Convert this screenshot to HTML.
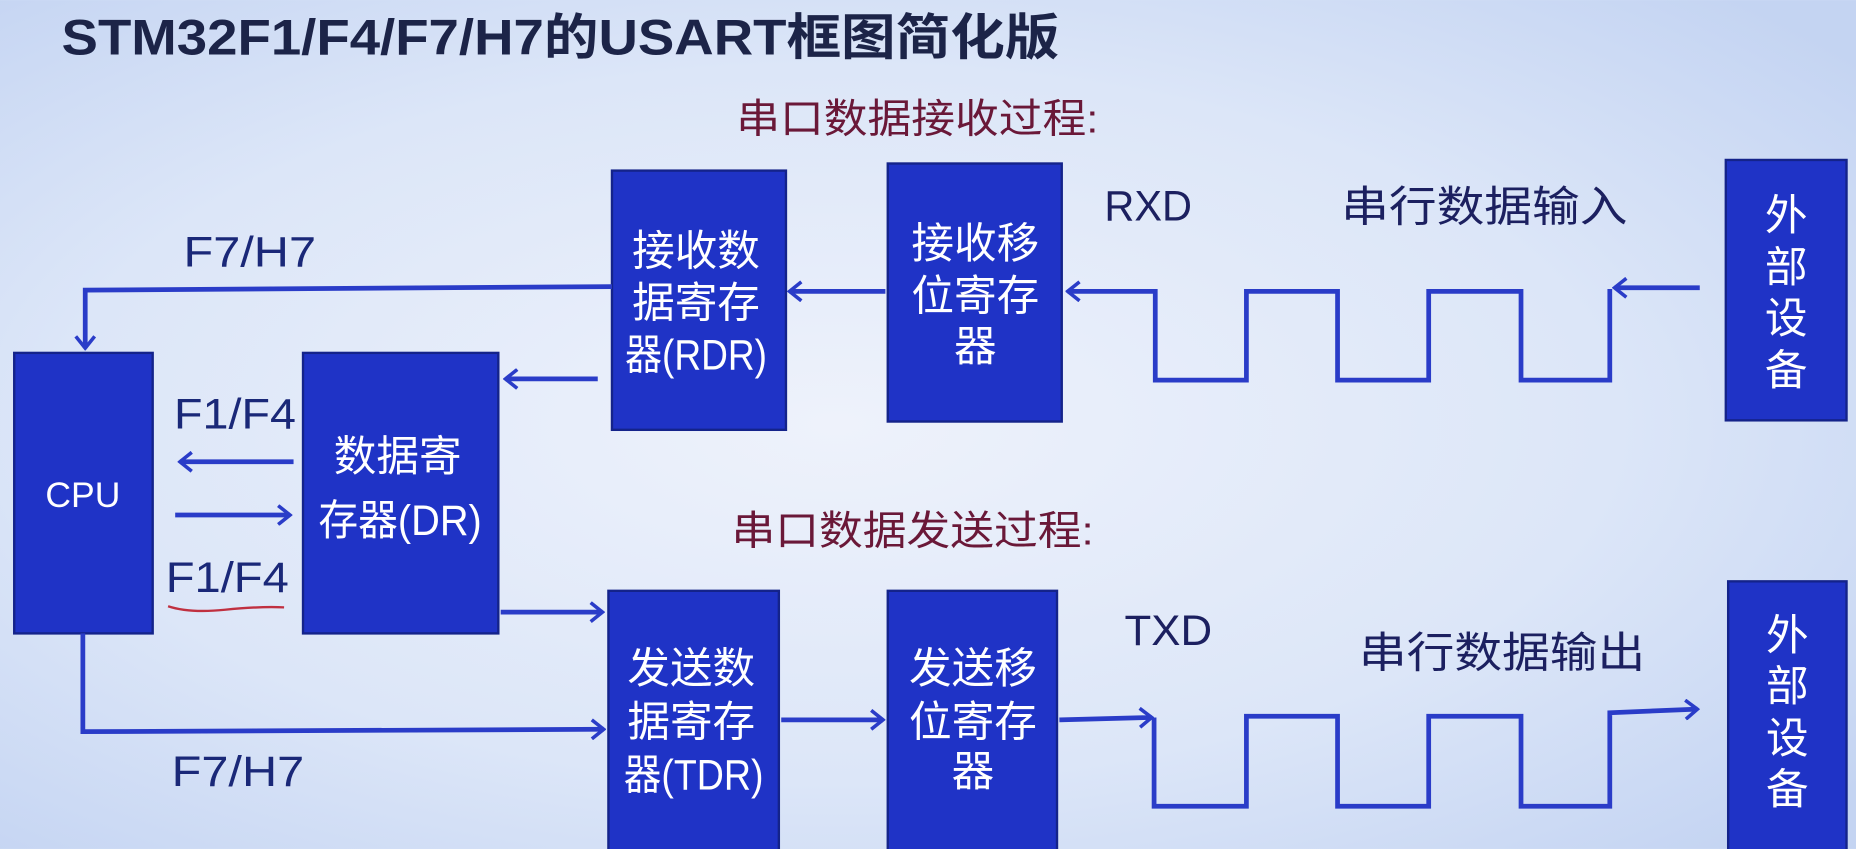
<!DOCTYPE html>
<html><head><meta charset="utf-8"><style>
html,body{margin:0;padding:0;width:1856px;height:849px;overflow:hidden;background:#d6e2f7}
svg{display:block}
text{font-family:"Liberation Sans","Noto Sans CJK SC",sans-serif}
</style></head><body>
<svg width="1856" height="849" viewBox="0 0 1568 717" xmlns="http://www.w3.org/2000/svg">
<defs>
<radialGradient id="bg" cx="0.45" cy="0.5" r="0.7">
<stop offset="0" stop-color="#eef2fb"/><stop offset="0.6" stop-color="#dce6f8"/><stop offset="1" stop-color="#c4d4f2"/>
</radialGradient>
<marker id="a" markerWidth="14" markerHeight="18" refX="12" refY="9" orient="auto" markerUnits="userSpaceOnUse">
<path d="M2,1 L12,9 L2,17" fill="none" stroke="#2a3cc8" stroke-width="3"/>
</marker>
</defs>
<rect width="1568" height="717" fill="url(#bg)"/>
<text x="52" y="46" font-size="42" font-weight="bold" fill="#1c2448" textLength="843" lengthAdjust="spacingAndGlyphs">STM32F1/F4/F7/H7的USART框图简化版</text>
<text x="622" y="112" font-size="34" fill="#6a1838" textLength="306" lengthAdjust="spacingAndGlyphs">串口数据接收过程:</text>
<text x="618" y="460" font-size="34" fill="#6a1838" textLength="306" lengthAdjust="spacingAndGlyphs">串口数据发送过程:</text>
<g fill="#1f33c6" stroke="#14238a" stroke-width="2">
<rect x="517" y="144" width="147" height="219"/>
<rect x="750" y="138" width="147" height="218"/>
<rect x="1458" y="135" width="102" height="220"/>
<rect x="256" y="298" width="165" height="237"/>
<rect x="12" y="298" width="117" height="237"/>
<rect x="514" y="499" width="144" height="230"/>
<rect x="750" y="499" width="143" height="230"/>
<rect x="1460" y="491" width="100" height="230"/>
</g>
<g fill="#fff" font-size="36" text-anchor="middle">
<text x="588" y="224">接收数</text><text x="588" y="268">据寄存</text><text x="588" y="312" textLength="120" lengthAdjust="spacingAndGlyphs">器(RDR)</text>
<text x="824" y="218">接收移</text><text x="824" y="262">位寄存</text><text x="824" y="305">器</text>
<text x="336" y="398">数据寄</text><text x="338" y="452" textLength="138" lengthAdjust="spacingAndGlyphs">存器(DR)</text>
<text x="70" y="428" font-size="30">CPU</text>
<text x="584" y="577">发送数</text><text x="584" y="622">据寄存</text><text x="586" y="667" textLength="118" lengthAdjust="spacingAndGlyphs">器(TDR)</text>
<text x="822" y="577">发送移</text><text x="822" y="622">位寄存</text><text x="822" y="664">器</text>
<text x="1509" y="194">外</text><text x="1509" y="238">部</text><text x="1509" y="281">设</text><text x="1509" y="325">备</text>
<text x="1510" y="549">外</text><text x="1510" y="592">部</text><text x="1510" y="636">设</text><text x="1510" y="679">备</text>
</g>
<g fill="#1c2060" font-size="36">
<text x="933" y="186" textLength="74" lengthAdjust="spacingAndGlyphs">RXD</text>
<text x="1133" y="187" textLength="242" lengthAdjust="spacingAndGlyphs">串行数据输入</text>
<text x="950" y="545" textLength="74" lengthAdjust="spacingAndGlyphs">TXD</text>
<text x="1148" y="564" textLength="242" lengthAdjust="spacingAndGlyphs">串行数据输出</text>
</g>
<g fill="#1a2878" font-size="36">
<text x="155" y="225" textLength="112" lengthAdjust="spacingAndGlyphs">F7/H7</text>
<text x="147" y="362" textLength="103" lengthAdjust="spacingAndGlyphs">F1/F4</text>
<text x="140" y="500" textLength="104" lengthAdjust="spacingAndGlyphs">F1/F4</text>
<text x="145" y="664" textLength="112" lengthAdjust="spacingAndGlyphs">F7/H7</text>
</g>
<path d="M142,512 Q160,518 190,515 T240,513" fill="none" stroke="#c03040" stroke-width="2"/>
<g fill="none" stroke="#2a3cc8" stroke-width="4">
<path d="M517,242 L72,245 L72,294" marker-end="url(#a)"/>
<path d="M505,320 L427,320" marker-end="url(#a)"/>
<path d="M748,246 L667,246" marker-end="url(#a)"/>
<path d="M248,390 L152,390" marker-end="url(#a)"/>
<path d="M148,435 L245,435" marker-end="url(#a)"/>
<path d="M423,517 L509,517" marker-end="url(#a)"/>
<path d="M70,535 L70,618 L510,616" marker-end="url(#a)"/>
<path d="M660,608 L746,608" marker-end="url(#a)"/>
<path d="M1436,243 L1364,243" marker-end="url(#a)"/>
<path d="M1360,244 L1360,321 L1285,321 L1285,246 L1207,246 L1207,321 L1130,321 L1130,246 L1053,246 L1053,321 L976,321 L976,246 L902,246" marker-end="url(#a)"/>
<path d="M895,608 L973,606" marker-end="url(#a)"/>
<path d="M975,606 L975,681 L1053,681 L1053,605 L1130,605 L1130,681 L1207,681 L1207,605 L1285,605 L1285,681 L1360,681 L1360,602 L1434,599" marker-end="url(#a)"/>
</g>
</svg>
</body></html>
